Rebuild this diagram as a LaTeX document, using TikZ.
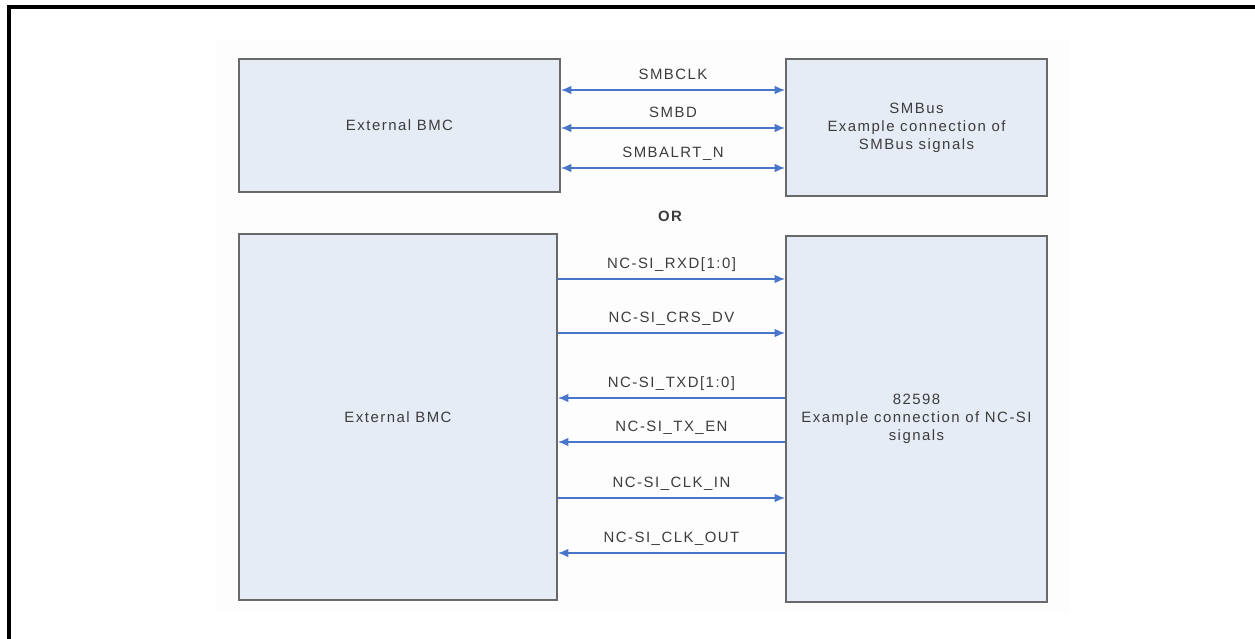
\documentclass[tikz,border=0pt]{standalone}
\usepackage{fontspec}
\setmainfont{Liberation Sans}[LetterSpace=10]
\usetikzlibrary{arrows.meta,positioning}
\definecolor{boxfill}{RGB}{230,236,246}
\definecolor{boxline}{RGB}{105,105,105}
\definecolor{sigblue}{RGB}{72,118,200}
\definecolor{txtgray}{RGB}{60,60,60}
\tikzset{
  blk/.style={draw=boxline,line width=1.1pt,fill=boxfill,align=center,text=txtgray,font=\fontsize{8.5}{10.3}\selectfont,inner sep=0pt},
  sig/.style={draw=sigblue,line width=0.9pt},
  toDev/.style={sig,-{Latex[length=6pt,width=5pt]}},
  toBMC/.style={sig,{Latex[length=6pt,width=5pt]}-},
  both/.style={sig,{Latex[length=6pt,width=5pt]}-{Latex[length=6pt,width=5pt]}},
  lbl/.style={font=\fontsize{8.5}{10}\selectfont,text=txtgray,anchor=base,inner sep=0pt,yshift=0.21cm},
}
\begin{document}
\begin{tikzpicture}[x=0.02cm,y=-0.02cm]
  \useasboundingbox (0,0) rectangle (1255,639);
  \fill[black!0.6] (217,40) rectangle (1070,613);
  \draw[line width=2.2pt] (1255,7) -- (9,7) -- (9,639);
  % SMBus option
  \node[blk,minimum width=6.42cm,minimum height=2.66cm] (smbBMC) at (399.5,125.5) {External BMC};
  \node[blk,minimum width=5.22cm,minimum height=2.74cm] (smbDev) at (916.5,127.5) {SMBus\\Example connection of\\SMBus signals};
  \foreach \y/\t in {90/SMBCLK, 128/SMBD, 168/SMBALRT\_N}
    \draw[both] (smbBMC.east |- 0,\y) -- node[lbl] {\t} (smbDev.west |- 0,\y);
  \node[font=\bfseries\fontsize{8.5}{10}\selectfont,text=txtgray] (orTxt) at (670,216) {OR};
  % NC-SI option
  \node[blk,minimum width=6.36cm,minimum height=7.32cm] (ncBMC) at (398,417) {External BMC};
  \node[blk,minimum width=5.22cm,minimum height=7.32cm] (ncDev) at (916.5,419) {82598\\Example connection of NC-SI\\signals};
  \foreach \y/\t/\s in {279/{NC-SI\_RXD[1:0]}/toDev, 333/{NC-SI\_CRS\_DV}/toDev, 398/{NC-SI\_TXD[1:0]}/toBMC,
                        442/{NC-SI\_TX\_EN}/toBMC, 498/{NC-SI\_CLK\_IN}/toDev, 553/{NC-SI\_CLK\_OUT}/toBMC}
    \draw[\s] (ncBMC.east |- 0,\y) -- node[lbl] {\t} (ncDev.west |- 0,\y);
\end{tikzpicture}
\end{document}
